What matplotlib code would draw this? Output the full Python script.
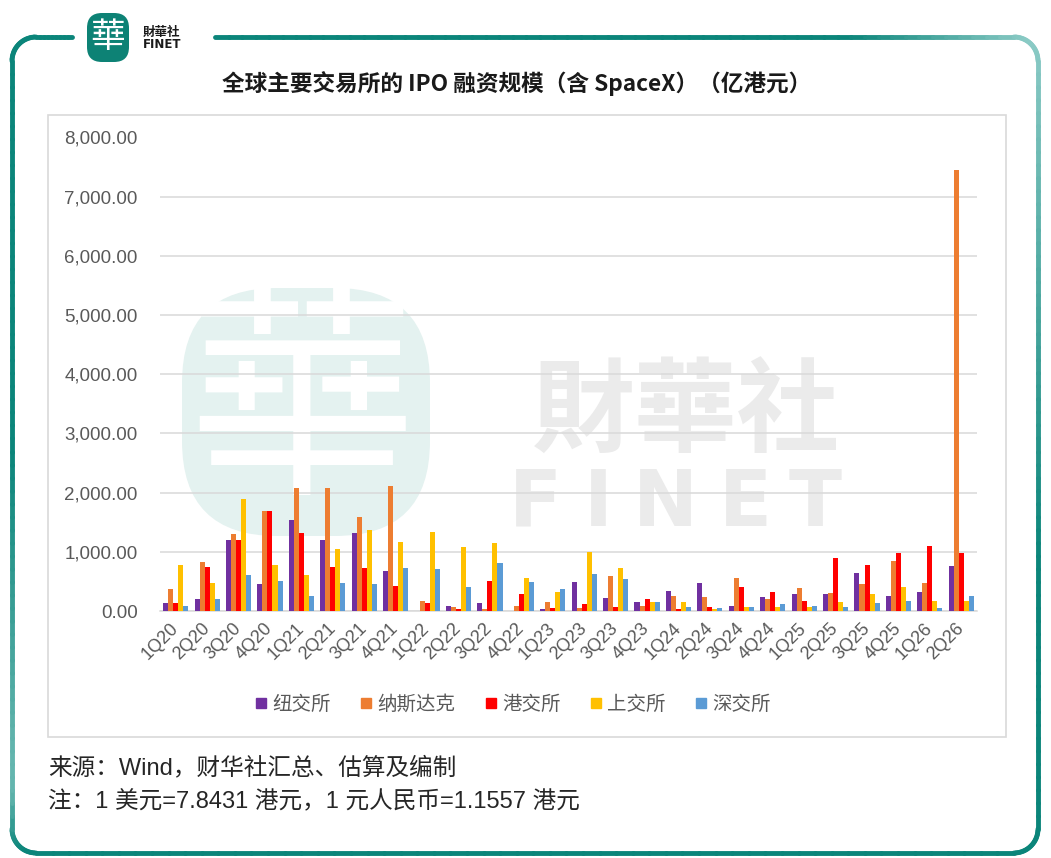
import numpy as np
import matplotlib
matplotlib.use("Agg")
import matplotlib.pyplot as plt
from matplotlib.patches import FancyBboxPatch, Rectangle
from matplotlib.collections import LineCollection
from matplotlib.lines import Line2D
from matplotlib.ticker import FuncFormatter, MultipleLocator

plt.rcParams['font.family'] = ['Noto Sans CJK SC', 'DejaVu Sans']

quarters = ['1Q20', '2Q20', '3Q20', '4Q20', '1Q21', '2Q21', '3Q21', '4Q21',
            '1Q22', '2Q22', '3Q22', '4Q22', '1Q23', '2Q23', '3Q23', '4Q23',
            '1Q24', '2Q24', '3Q24', '4Q24', '1Q25', '2Q25', '3Q25', '4Q25',
            '1Q26', '2Q26']
nyse   = [130, 200, 1205, 450, 1530, 1205, 1320, 680, 5, 90, 130, 0, 35, 495, 215, 155,
          345, 470, 90, 240, 280, 280, 640, 260, 325, 765]
nasdaq = [370, 830, 1295, 1695, 2075, 2075, 1590, 2120, 175, 70, 35, 90, 155, 50, 595, 85,
          260, 240, 555, 200, 385, 300, 450, 850, 470, 7450]
hkex   = [130, 740, 1205, 1695, 1320, 740, 720, 425, 130, 35, 510, 280, 50, 115, 70, 200,
          35, 70, 410, 325, 175, 890, 785, 975, 1100, 975]
sse    = [785, 465, 1885, 785, 600, 1055, 1375, 1165, 1335, 1080, 1150, 555, 325, 995, 720, 155,
          155, 35, 70, 70, 70, 155, 280, 410, 175, 175]
szse   = [85, 200, 615, 510, 255, 465, 450, 720, 705, 410, 805, 495, 370, 620, 535, 155,
          70, 50, 70, 115, 90, 70, 130, 175, 50, 260]
series_names = ['纽交所', '纳斯达克', '港交所', '上交所', '深交所']
colors = ['#7030A0', '#ED7D31', '#FF0000', '#FFC000', '#5B9BD5']

LATIN = ['Liberation Sans', 'Noto Sans CJK SC', 'DejaVu Sans']

W, H = 1051, 858
fig = plt.figure(figsize=(W / 100, H / 100), dpi=100)

bg = fig.add_axes([0, 0, 1, 1], zorder=0)
bg.set_xlim(0, W)
bg.set_ylim(H, 0)
bg.axis('off')

def arc(cx, cy, r, a0, a1, n=20):
    a = np.radians(np.linspace(a0, a1, n))
    return list(zip(cx + r * np.cos(a), cy + r * np.sin(a)))

L, T, R, B, rad = 12, 37, 1038, 853, 24
pts = []
pts += [(x, T) for x in np.linspace(215, R - rad, 60)]
pts += arc(R - rad, T + rad, rad, 270, 360)
pts += [(R, y) for y in np.linspace(T + rad, B - rad, 60)]
pts += arc(R - rad, B - rad, rad, 0, 90)
pts += [(x, B) for x in np.linspace(R - rad, L + rad, 60)]
pts += arc(L + rad, B - rad, rad, 90, 180)
pts += [(L, y) for y in np.linspace(B - rad, T + rad, 60)]
pts += arc(L + rad, T + rad, rad, 180, 270)
pts += [(x, T) for x in np.linspace(L + rad, 72, 10)]
pts = np.array(pts)
segs = np.stack([pts[:-1], pts[1:]], axis=1)
mid = segs.mean(axis=1)
dark = np.array([0x0B, 0x85, 0x7A]) / 255
light = np.array([0x8C, 0xCB, 0xC6]) / 255
t1 = np.clip((mid[:, 0] - 850) / 180, 0, 1) * np.clip(1 - (mid[:, 1] - 37) / 520, 0, 1)
t2 = np.clip((90 - mid[:, 0]) / 80, 0, 1) * np.clip((mid[:, 1] - 450) / 300, 0, 1) * np.clip((850 - mid[:, 1]) / 60, 0, 1) * 0.7
t = np.clip(t1 + t2, 0, 1)[:, None]
cols = dark * (1 - t) + light * t
bg.add_collection(LineCollection(segs, colors=cols, linewidths=3.5, capstyle='round'))

# top-left logo
bg.add_patch(FancyBboxPatch((87, 13), 42, 49, boxstyle='round,pad=0,rounding_size=15',
                            facecolor='#0D8275', edgecolor='none'))
bg.text(108, 37, '華', fontsize=25, color='white', ha='center', va='center',
        family=['Noto Sans CJK TC'])
bg.text(143, 32, '財華社', fontsize=9, color='#1a1a1a', ha='left', va='center',
        family=['Noto Sans CJK TC'], fontweight='bold')
bg.text(143, 45, 'FINET', fontsize=8.5, color='#1a1a1a', ha='left', va='center',
        family=['DejaVu Sans'], fontweight='bold')

# title
bg.text(517, 84, '全球主要交易所的 IPO 融资规模（含 SpaceX）（亿港元）', fontsize=16.3,
        color='#1a1a1a', ha='center', va='center', fontweight='bold')

# chart box
bg.add_patch(Rectangle((48, 115), 958, 622, facecolor='white', edgecolor='#D9D9D9', lw=1.2))

# watermark
bg.add_patch(FancyBboxPatch((182, 288), 248, 248, boxstyle='round,pad=0,rounding_size=95',
                            facecolor='#E4F2F0', edgecolor='none', zorder=2))
bg.text(302, 412, '華', fontsize=165, color='white', ha='center', va='center',
        family=['Noto Sans CJK TC'], zorder=3)
bg.text(686, 414, '財華社', fontsize=74, color='#EBEBEB', ha='center', va='center',
        family=['Noto Sans CJK TC'], fontweight='bold', zorder=2)
for ch, xc in zip('FINET', [535, 598, 665, 745, 815]):
    bg.text(xc, 504, ch, fontsize=56, color='#EBEBEB', ha='center', va='center',
            family=['DejaVu Sans'], fontweight='bold', zorder=2)

# footer
bg.text(48, 768, '来源：Wind，财华社汇总、估算及编制', fontsize=17, color='#262626',
        ha='left', va='center', family=LATIN)
bg.text(48, 802, '注：1 美元=7.8431 港元，1 元人民币=1.1557 港元', fontsize=17,
        color='#262626', ha='left', va='center', family=LATIN)

# main plot
x0, x1 = 160, 977
y_top, y_bot = 137.5, 611
ax = fig.add_axes([x0 / W, 1 - y_bot / H, (x1 - x0) / W, (y_bot - y_top) / H], zorder=1)
ax.set_facecolor('none')
xs = np.arange(len(quarters))
bw = 0.16
data = [nyse, nasdaq, hkex, sse, szse]
for i, (vals, c) in enumerate(zip(data, colors)):
    ax.bar(xs + (i - 2) * bw, vals, width=bw, color=c, zorder=3, linewidth=0)
ax.set_xlim(-0.5, len(quarters) - 0.5)
ax.set_ylim(0, 8000)
ax.yaxis.set_major_locator(MultipleLocator(1000))
ax.yaxis.set_major_formatter(FuncFormatter(lambda v, p: f'{v:,.2f}'))
ax.grid(axis='y', color='#D9D9D9', linewidth=1.1, zorder=1)
for s in ['top', 'right', 'left']:
    ax.spines[s].set_visible(False)
ax.spines['bottom'].set_color('#D9D9D9')
ax.spines['bottom'].set_linewidth(1.1)
ax.tick_params(axis='y', length=0, pad=16, labelsize=13.5, labelcolor='#595959')
ax.tick_params(axis='x', length=0, pad=11, labelsize=13, labelcolor='#595959')
ax.set_xticks(xs)
ax.set_xticklabels(quarters, rotation=45, ha='right', va='center', rotation_mode='anchor')
for lab in ax.get_xticklabels() + ax.get_yticklabels():
    lab.set_family(['Liberation Sans', 'DejaVu Sans'])

handles = [Line2D([], [], marker='s', linestyle='none', markersize=7.5, color=c) for c in colors]
fig.legend(handles, series_names, loc='center', bbox_to_anchor=(511 / W, 1 - 704 / H),
           ncol=5, frameon=False, fontsize=14, labelcolor='#595959',
           handletextpad=0.1, columnspacing=1.3, handlelength=1.0)

fig.savefig('out.png', dpi=100)
